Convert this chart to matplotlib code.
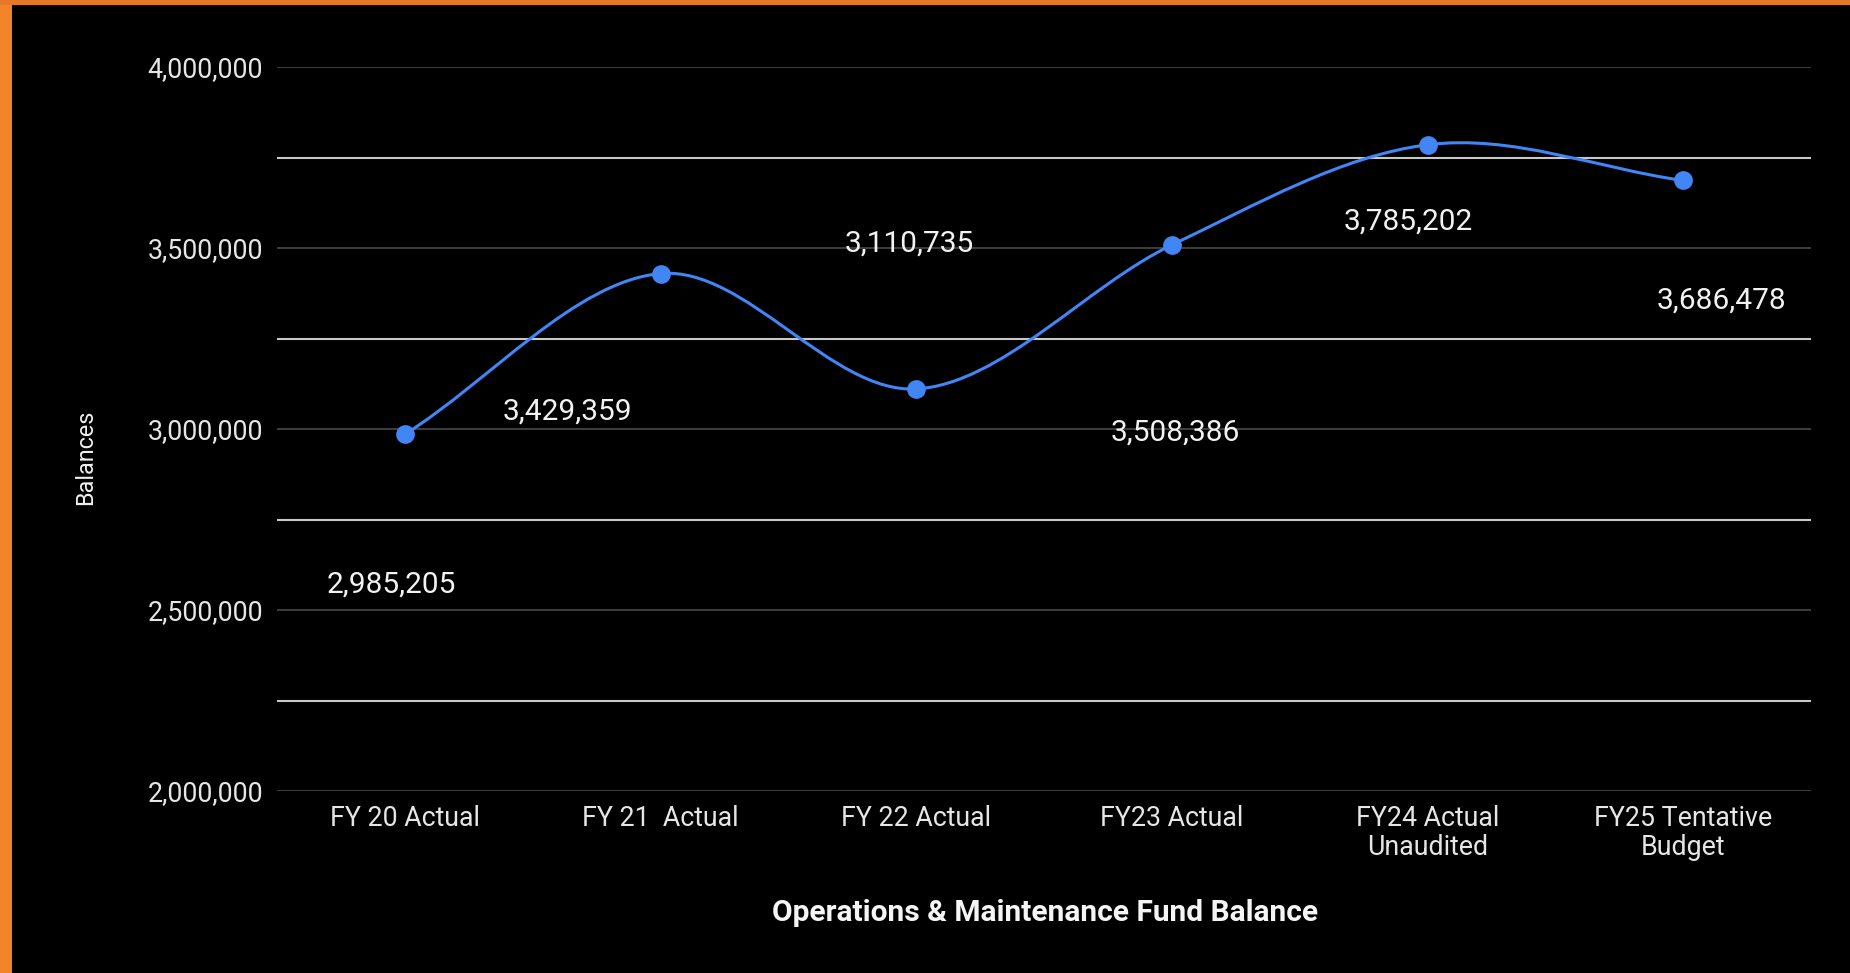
import numpy as np
import matplotlib
matplotlib.use("Agg")
import matplotlib.pyplot as plt
from matplotlib.path import Path
from matplotlib.patches import PathPatch, Rectangle
from matplotlib.ticker import FuncFormatter

categories = ["FY 20 Actual", "FY 21  Actual", "FY 22 Actual", "FY23 Actual",
              "FY24 Actual\nUnaudited", "FY25 Tentative\nBudget"]
balances = [2985205, 3429359, 3110735, 3508386, 3785202, 3686478]
y_ticks = [2000000, 2500000, 3000000, 3500000, 4000000]
y_minor_ticks = [2250000, 2750000, 3250000, 3750000]
title = "Operations & Maintenance Fund Balance"
y_title = "Balances"

# label offsets (pixels) as placed in the original chart
label_offsets = [(-14, -150), (-93, -138), (-7, 145), (3, -188), (-19, -77), (38, -120)]

plt.rcParams['font.family'] = ['Roboto', 'DejaVu Sans']

W, H = 1850, 973
fig = plt.figure(figsize=(W / 100, H / 100), dpi=100, facecolor='black')
ax = fig.add_axes([277 / W, 1 - 791 / H, (1811 - 277) / W, (791 - 67) / H])
ax.set_facecolor('black')

# orange frame strips (left and top)
fig.patches.append(Rectangle((0, 0), 12 / W, 1, transform=fig.transFigure,
                             facecolor='#f2842a', edgecolor='none', zorder=0))
fig.patches.append(Rectangle((0, 1 - 5 / H), 1, 5 / H, transform=fig.transFigure,
                             facecolor='#e57a26', edgecolor='none', zorder=0))

x = np.arange(len(balances))
y = np.array(balances, dtype=float)

# smooth curve (cubic Bezier through the points, Catmull-Rom tangents)
m = np.zeros_like(y)
m[1:-1] = (y[2:] - y[:-2]) / 2
m[0] = y[1] - y[0]
m[-1] = y[-1] - y[-2]
verts = [(x[0], y[0])]
codes = [Path.MOVETO]
for i in range(len(x) - 1):
    verts += [(x[i] + 1 / 3, y[i] + m[i] / 3),
              (x[i + 1] - 1 / 3, y[i + 1] - m[i + 1] / 3),
              (x[i + 1], y[i + 1])]
    codes += [Path.CURVE4] * 3
ax.add_patch(PathPatch(Path(verts, codes), facecolor='none', edgecolor='#4285f4',
                       lw=2.2, zorder=3, capstyle='round'))
ax.plot(x, y, linestyle='none', marker='o', markersize=13.5, color='#4285f4',
        markeredgewidth=0, zorder=4)

for xi, yi, (dx, dy) in zip(x, y, label_offsets):
    ax.annotate(f"{int(yi):,}", xy=(xi, yi), xytext=(dx, dy), textcoords='offset pixels',
                ha='center', va='center', color='#f2f2f2', fontsize=21.5, zorder=5)

ax.set_xlim(-0.5, len(categories) - 0.5)
ax.set_ylim(2000000, 4000000)
ax.set_yticks(y_ticks)
ax.set_yticks(y_minor_ticks, minor=True)
ax.yaxis.set_major_formatter(FuncFormatter(lambda v, p: f"{int(v):,}"))
ax.set_xticks(x)
ax.set_xticklabels(categories, linespacing=1.12)

ax.grid(axis='y', which='major', color='#3c3c3c', lw=1.5, zorder=1)
ax.grid(axis='y', which='minor', color='#c8c8c8', lw=1.5, zorder=1)
ax.grid(axis='x', visible=False)
ax.set_axisbelow(True)
for s in ax.spines.values():
    s.set_visible(False)
ax.tick_params(axis='both', which='both', length=0, colors='#e6e6e6', labelsize=19.3)
ax.tick_params(axis='y', pad=10)
ax.tick_params(axis='x', pad=10)

fig.text(86 / W, 1 - 457 / H, y_title, rotation=90, ha='center', va='center',
         color='#f0f0f0', fontsize=16.8)
fig.text(1045 / W, 1 - 913 / H, title, ha='center', va='center', color='#f5f5f5',
         fontsize=21.5, fontweight='bold')

fig.savefig('out.png', dpi=100, facecolor='black')
